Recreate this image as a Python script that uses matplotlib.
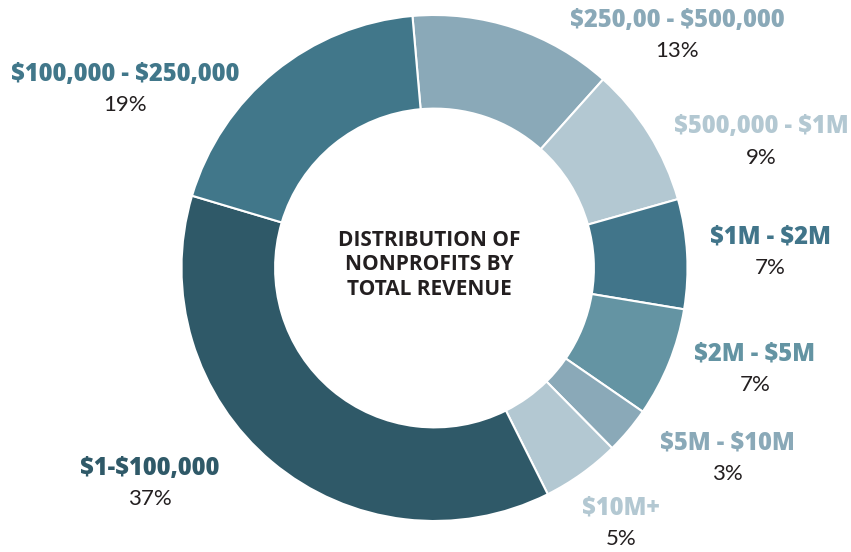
import matplotlib.pyplot as plt

# revenue bands, clockwise from the top
bands = ["$250,00 - $500,000", "$500,000 - $1M", "$1M - $2M", "$2M - $5M",
         "$5M - $10M", "$10M+", "$1-$100,000", "$100,000 - $250,000"]
shares = [13, 9, 7, 7, 3, 5, 37, 19]
colors = ["#8aa9b8", "#b3c8d2", "#41758a", "#6494a3",
          "#8aa9b8", "#b3c8d2", "#2f5968", "#41778a"]
# label centres in pixels (x, y of band name)
label_px = [(677, 20), (761, 127), (770, 237), (755, 354),
            (727, 443), (621, 508), (150, 468), (125, 74)]

W, H = 851, 552
cx, cy, R = 434.5, 268, 253

plt.rcParams['font.family'] = ['Open Sans', 'DejaVu Sans']
plt.rcParams['text.parse_math'] = False
fig = plt.figure(figsize=(W / 100, H / 100), dpi=100)
ax = fig.add_axes([(cx - R) / W, (H - cy - R) / H, 2 * R / W, 2 * R / H])
ax.pie(shares, colors=colors, startangle=95, counterclock=False, radius=1,
       wedgeprops=dict(width=0.37, edgecolor="white", linewidth=1.5))
ax.set_xlim(-1, 1)
ax.set_ylim(-1, 1)
ax.set_aspect("equal")
ax.axis("off")


def to_data(px, py):
    return (px - cx) / R, (cy - py) / R


for band, share, col, (px, py) in zip(bands, shares, colors, label_px):
    x, y = to_data(px, py)
    ax.text(x, y, band, ha="center", va="center", fontsize=17,
            fontweight="heavy", color=col, clip_on=False)
    x2, y2 = to_data(px, py + 31)
    ax.text(x2, y2, f"{share}%", ha="center", va="center", fontsize=16,
            family="Lato", color="#231f20", clip_on=False)

x, y = to_data(429, 265)
ax.text(x, y, "DISTRIBUTION OF\nNONPROFITS BY\nTOTAL REVENUE", ha="center",
        va="center", fontsize=15, fontweight="bold", color="#231f20",
        linespacing=1.2)

fig.savefig("out.png", dpi=100)
